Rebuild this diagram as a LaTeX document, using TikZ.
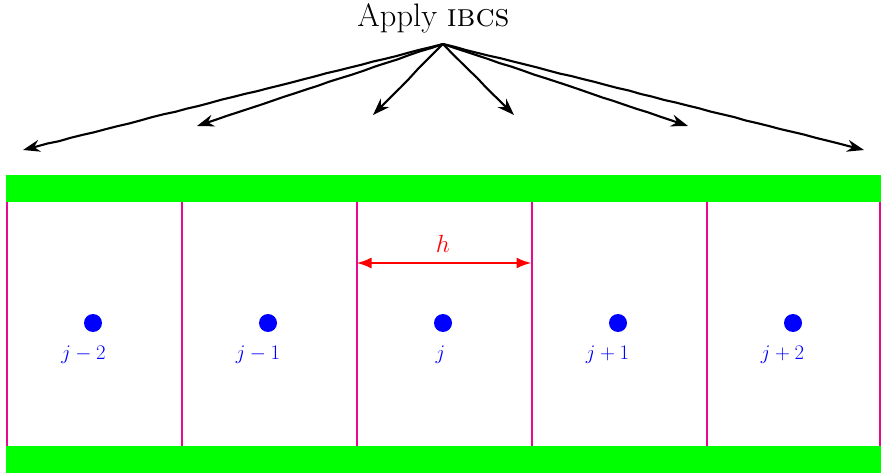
\documentclass[tikz,border=0pt]{standalone}
\usetikzlibrary{arrows.meta,decorations.pathmorphing}
\definecolor{cellline}{RGB}{230,10,145}
\begin{document}
\begin{tikzpicture}[x=1pt,y=-1pt,
  fanarrow/.style={line width=2.1pt,-{Stealth[length=17pt,width=12pt]},
    decorate,decoration={random steps,segment length=12pt,amplitude=0.3pt,post length=12pt}},
  cellline/.style={draw=cellline,line width=2pt},
  greenbar/.style={fill={rgb,255:red,0;green,255;blue,0},draw=none},
  celldot/.style={circle,fill=blue,inner sep=0pt,minimum size=18pt},
  celllabel/.style={text=blue,anchor=base,inner sep=0pt,font=\fontsize{21.5}{25}\selectfont},
  harrow/.style={draw=red,line width=2.2pt,{Latex[length=15pt,width=11pt]}-{Latex[length=15pt,width=11pt]}}]
\useasboundingbox (0,0) rectangle (881,473);
\pgfmathsetseed{7}
% title
\node[anchor=base,inner sep=0pt,font=\fontsize{32.5}{38}\selectfont] (title) at (433.5,27) {Apply \textsc{ibcs}};
\coordinate (src) at (443,44);
\coordinate (t1) at (23,150);
\coordinate (t2) at (197,126);
\coordinate (t3) at (373,115);
\coordinate (t4) at (514,115);
\coordinate (t5) at (688,126);
\coordinate (t6) at (864,150);
\foreach \t in {t1,t2,t3,t4,t5,t6} \draw[fanarrow] (src) -- (\t);
% green bars
\path[greenbar] (6,175) rectangle (881,202);
\path[greenbar] (6,446) rectangle (881,473);
% vertical cell lines
\foreach \i/\x in {0/6.5,1/181.5,2/356.5,3/531.5,4/706.5,5/880} {
  \coordinate (top\i) at (\x,202);
  \coordinate (bot\i) at (\x,446);
  \draw[cellline] (top\i) -- (bot\i);
}
% h arrow
\coordinate (ha) at (356.5,263);
\coordinate (hb) at (531.5,263);
\draw[harrow] (ha) -- (hb);
\node[text=red,anchor=base,inner sep=0pt,font=\fontsize{33}{38}\selectfont] (hlab) at (443,253) {$h$};
% dots and labels
\node[celldot] (d1) at (93,323) {};
\node[celldot] (d2) at (268,323) {};
\node[celldot] (d3) at (443,323) {};
\node[celldot] (d4) at (618,323) {};
\node[celldot] (d5) at (793,323) {};
\node[celllabel] (l1) at (83.5,359) {$j-2$};
\node[celllabel] (l2) at (258,359) {$j-1$};
\node[celllabel] (l3) at (440.5,359) {$j$};
\node[celllabel] (l4) at (607.5,359) {$j+1$};
\node[celllabel] (l5) at (782.5,359) {$j+2$};
\end{tikzpicture}
\end{document}
